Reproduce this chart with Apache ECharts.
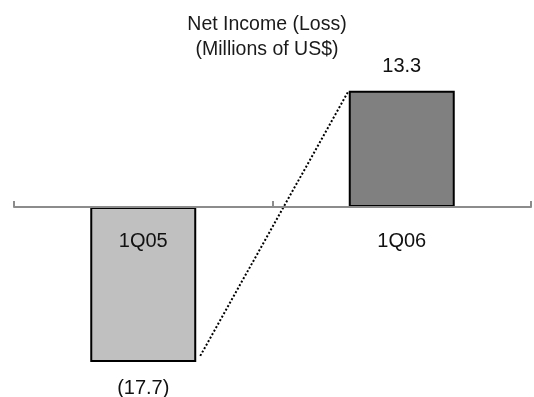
<!DOCTYPE html>
<html>
<head>
<meta charset="utf-8">
<script src="https://cdn.jsdelivr.net/npm/echarts@6/dist/echarts.min.js"></script>
<style>html,body{margin:0;padding:0;background:#fff;}#c{width:534px;height:397px;}</style>
</head>
<body>
<div id="c"></div>
<script>
var categories = ['1Q05', '1Q06'];
var netIncome = [-17.7, 13.3];
var barColors = ['#c0c0c0', '#808080'];
var titleLines = ['Net Income (Loss)', '(Millions of US$)'];

var chart = echarts.init(document.getElementById('c'), null, {renderer: 'canvas'});
var FONT = '"Liberation Sans", Arial, sans-serif';
var BAR_FRAC = 0.41;

function fmt(v) { return v < 0 ? '(' + Math.abs(v).toFixed(1) + ')' : v.toFixed(1); }

chart.setOption({
  animation: false,
  backgroundColor: '#fff',
  title: {
    text: titleLines.join('\n'),
    left: 'center', top: 7,
    textStyle: {fontFamily: FONT, fontSize: 19.5, fontWeight: 'normal', color: '#1a1a1a', lineHeight: 25}
  },
  grid: {left: 14, right: 3, top: 67, bottom: 15, containLabel: false, outerBoundsMode: 'none'},
  xAxis: {
    type: 'category', data: categories, z: 10,
    axisLine: {onZero: true, lineStyle: {color: '#8c8c8c', width: 2}},
    axisTick: {show: true, inside: true, length: 6, lineStyle: {color: '#8c8c8c', width: 2}},
    axisLabel: {show: false},
    splitLine: {show: false}
  },
  yAxis: {type: 'value', min: -20, max: 16, show: false, splitLine: {show: false}},
  series: [
    {
      type: 'bar', barWidth: (BAR_FRAC * 100) + '%',
      data: netIncome.map(function (v, i) {
        return {
          value: v,
          itemStyle: {color: barColors[i], borderColor: '#000', borderWidth: 2},
          label: {show: true, position: v < 0 ? 'bottom' : 'top', distance: v < 0 ? 17 : 14,
                  formatter: fmt(v), fontFamily: FONT, fontSize: 20, color: '#111'}
        };
      })
    },
    {
      type: 'custom', z: 5,
      data: [[0, netIncome[0], 1, netIncome[1]]],
      renderItem: function (params, api) {
        var p1 = api.coord([api.value(0), api.value(1)]);
        var p2 = api.coord([api.value(2), api.value(3)]);
        var band = api.size([1, 0])[0];
        var half = band * BAR_FRAC / 2;
        return {
          type: 'line',
          shape: {x1: p1[0] + half + 4, y1: p1[1] - 6, x2: p2[0] - half, y2: p2[1]},
          style: {stroke: '#000', lineWidth: 2, lineDash: [2, 2]}
        };
      }
    },
    {
      type: 'custom', z: 20,
      data: categories.map(function (c, i) { return [i, 0]; }),
      renderItem: function (params, api) {
        var p = api.coord([api.value(0), api.value(1)]);
        return {
          type: 'text',
          style: {text: categories[params.dataIndex], x: p[0], y: p[1] + 34,
                  align: 'center', verticalAlign: 'middle',
                  font: '20px ' + FONT, fill: '#111'}
        };
      }
    }
  ]
});
</script>
</body>
</html>
